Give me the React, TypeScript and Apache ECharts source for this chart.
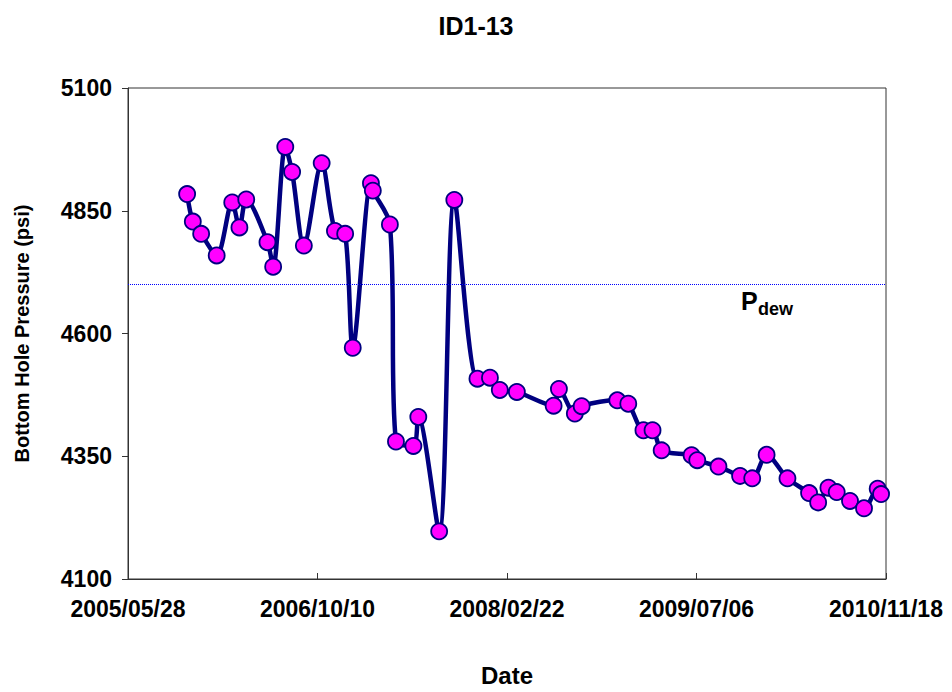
import React, { useEffect, useRef } from "react";
import * as echarts from "echarts";

const title = "ID1-13";
const xAxisName = "Date";
const yAxisName = "Bottom Hole Pressure (psi)";
const startDate = "2005-05-28";
const endDate = "2010-11-18";
const dayInterval = 500;
const yMin = 4100;
const yMax = 5100;
const yInterval = 250;
const dewPressure = 4700;

const dates = [
  "2005-10-31", "2005-11-15", "2005-12-07", "2006-01-17", "2006-02-27", "2006-03-18",
  "2006-04-05", "2006-05-31", "2006-06-15", "2006-07-17", "2006-08-04", "2006-09-04",
  "2006-10-21", "2006-11-25", "2006-12-22", "2007-01-11", "2007-02-28", "2007-03-05",
  "2007-04-19", "2007-05-05", "2007-06-20", "2007-07-03", "2007-08-27", "2007-10-06",
  "2007-12-06", "2008-01-08", "2008-02-03", "2008-03-19", "2008-06-24", "2008-07-08",
  "2008-08-19", "2008-09-06", "2008-12-09", "2009-01-07", "2009-02-16", "2009-03-12",
  "2009-04-05", "2009-06-23", "2009-07-08", "2009-09-02", "2009-10-29", "2009-11-30",
  "2010-01-07", "2010-03-03", "2010-04-29", "2010-05-23", "2010-06-19", "2010-07-11",
  "2010-08-15", "2010-09-21", "2010-10-27", "2010-11-05",
];

const pressures = [
  4884, 4828, 4803, 4759, 4867, 4816,
  4873, 4786, 4736, 4980, 4929, 4779,
  4947, 4809, 4803, 4571, 4906, 4891,
  4822, 4380, 4371, 4430, 4197, 4872,
  4508, 4510, 4485, 4481, 4453, 4487,
  4437, 4452, 4464, 4457, 4403, 4403,
  4362, 4352, 4342, 4329, 4310, 4305,
  4353, 4305, 4275, 4256, 4286, 4277,
  4259, 4244, 4284, 4273,
];

const DAY = 86400000;
const toMs = (s: string) => {
  const [y, m, d] = s.split("-").map(Number);
  return Date.UTC(y, m - 1, d);
};
const startMs = toMs(startDate);
const dayOffset = (s: string) => Math.round((toMs(s) - startMs) / DAY);
const pad = (n: number) => (n < 10 ? "0" + n : "" + n);
const fmtDay = (v: number) => {
  const d = new Date(startMs + v * DAY);
  return `${d.getUTCFullYear()}/${pad(d.getUTCMonth() + 1)}/${pad(d.getUTCDate())}`;
};

const FONT = "'Liberation Sans', Arial, sans-serif";

export default function App() {
  const ref = useRef<HTMLDivElement>(null);
  useEffect(() => {
    if (!ref.current) return;
    const chart = echarts.init(ref.current, undefined, { renderer: "svg" });
    const data = dates.map((d, i) => [dayOffset(d), pressures[i]]);
    chart.setOption({
      animation: false,
      backgroundColor: "#fff",
      title: {
        text: title,
        left: "center",
        top: 8,
        textStyle: { fontFamily: FONT, fontSize: 25, fontWeight: "bold", color: "#000" },
      },
      grid: {
        left: 128,
        right: 66,
        top: 88,
        bottom: 112,
        show: true,
        borderColor: "#333",
        borderWidth: 1,
        backgroundColor: "#fff",
      },
      xAxis: {
        type: "value",
        min: 0,
        max: dayOffset(endDate),
        interval: dayInterval,
        name: xAxisName,
        nameLocation: "middle",
        nameGap: 84,
        nameTextStyle: { fontFamily: FONT, fontSize: 24, fontWeight: "bold", color: "#000" },
        axisLine: { show: true, lineStyle: { color: "#333", width: 1 } },
        axisTick: { show: true, inside: true, length: 6, lineStyle: { color: "#333" } },
        splitLine: { show: false },
        axisLabel: {
          formatter: (v: number) => fmtDay(v),
          fontFamily: FONT,
          fontSize: 23,
          fontWeight: "bold",
          color: "#000",
          margin: 18,
        },
      },
      yAxis: {
        type: "value",
        min: yMin,
        max: yMax,
        interval: yInterval,
        name: yAxisName,
        nameLocation: "middle",
        nameGap: 96,
        nameTextStyle: { fontFamily: FONT, fontSize: 20, fontWeight: "bold", color: "#000" },
        axisLine: { show: true, lineStyle: { color: "#333", width: 1 } },
        axisTick: { show: true, inside: false, length: 6, lineStyle: { color: "#333" } },
        splitLine: { show: false },
        axisLabel: {
          formatter: (v: number) => String(v),
          fontFamily: FONT,
          fontSize: 23,
          fontWeight: "bold",
          color: "#000",
          margin: 16,
        },
      },
      graphic: [
        {
          type: "text",
          left: 741,
          top: 288,
          style: { text: "P", fontFamily: FONT, fontSize: 25, fontWeight: "bold", fill: "#000" },
        },
        {
          type: "text",
          left: 758,
          top: 300,
          style: { text: "dew", fontFamily: FONT, fontSize: 18, fontWeight: "bold", fill: "#000" },
        },
      ],
      series: [
        {
          type: "line",
          data,
          smooth: 0.3,
          symbol: "circle",
          symbolSize: 16,
          lineStyle: { color: "#000080", width: 4.5 },
          itemStyle: { color: "#ff00ff", borderColor: "#000080", borderWidth: 1.8 },
          markLine: {
            silent: true,
            symbol: "none",
            label: { show: false },
            lineStyle: { color: "#0000ff", width: 1, type: "dotted" },
            data: [{ yAxis: dewPressure }],
          },
          z: 3,
        },
      ],
    });
    return () => chart.dispose();
  }, []);
  return (
    <div
      ref={ref}
      style={{ position: "fixed", left: 0, top: 0, width: 952, height: 692 }}
    />
  );
}
